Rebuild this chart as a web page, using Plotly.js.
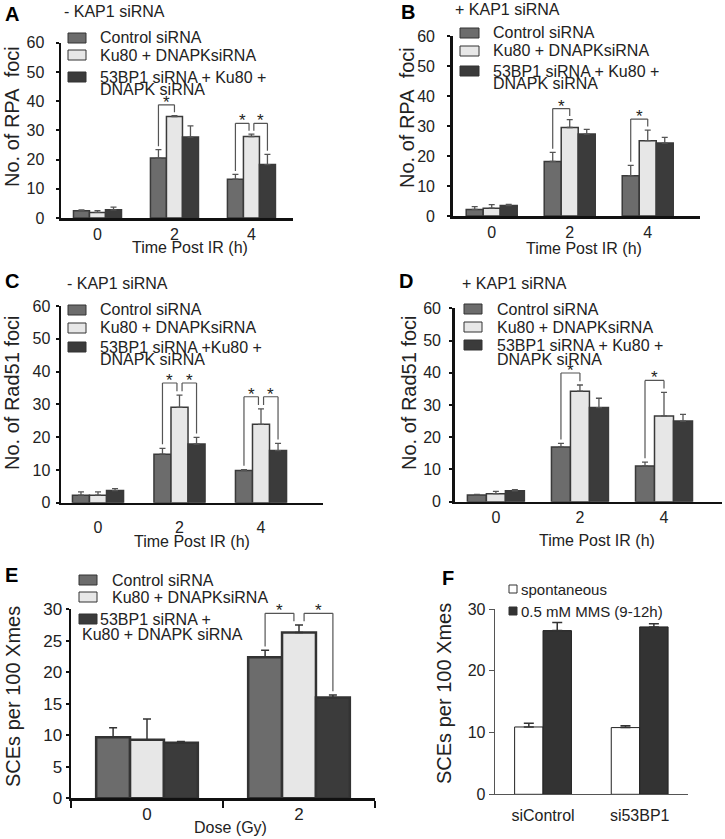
<!DOCTYPE html>
<html>
<head>
<meta charset="utf-8">
<script src="https://cdn.plot.ly/plotly-3.0.1.min.js"></script>
<style>html,body{margin:0;padding:0;background:#fff;}#chart{width:725px;height:839px;}</style>
</head>
<body>
<div id="chart"></div>
<script>
// ---------------- data ----------------
const timeLabels = ['0', '2', '4'];
const doseLabels = ['0', '2'];
const cellLabels = ['siControl', 'si53BP1'];

const namesAB = ['Control siRNA', 'Ku80 + DNAPKsiRNA', '53BP1 siRNA + Ku80 +<br>DNAPK siRNA'];
const namesC  = ['Control siRNA', 'Ku80 + DNAPKsiRNA', '53BP1 siRNA +Ku80 +<br>DNAPK siRNA'];
const namesE  = ['Control siRNA', 'Ku80 + DNAPKsiRNA', '53BP1 siRNA +<br>Ku80 + DNAPK siRNA'];
const namesF  = ['spontaneous', '0.5 mM MMS (9-12h)'];

// A: RPA foci, - KAP1 siRNA
const rpaMinusControl    = [2.5, 20.5, 13.3];
const rpaMinusControlErr = [0.3, 2.9, 1.6];
const rpaMinusKu         = [1.9, 34.7, 27.9];
const rpaMinusKuErr      = [0.6, 0.3, 0.8];
const rpaMinus53         = [2.8, 27.7, 18.3];
const rpaMinus53Err      = [0.9, 3.8, 3.5];
const sigA = [[1, 0, 1], [2, 0, 1], [2, 1, 2]];

// B: RPA foci, + KAP1 siRNA
const rpaPlusControl    = [2.2, 18.2, 13.4];
const rpaPlusControlErr = [0.9, 3.0, 3.5];
const rpaPlusKu         = [2.6, 29.5, 25.1];
const rpaPlusKuErr      = [1.2, 2.6, 3.5];
const rpaPlus53         = [3.5, 27.3, 24.3];
const rpaPlus53Err      = [0.4, 1.6, 1.9];
const sigB = [[1, 0, 1], [2, 0, 1]];

// C: Rad51 foci, - KAP1 siRNA
const radMinusControl    = [2.3, 14.8, 9.8];
const radMinusControlErr = [1.0, 1.8, 0.3];
const radMinusKu         = [2.3, 29.1, 23.9];
const radMinusKuErr      = [1.0, 3.7, 4.7];
const radMinus53         = [3.7, 17.9, 15.9];
const radMinus53Err      = [0.6, 2.0, 2.2];
const sigC = [[1, 0, 1], [1, 1, 2], [2, 0, 1], [2, 1, 2]];

// D: Rad51 foci, + KAP1 siRNA
const radPlusControl    = [2.1, 17.0, 11.1];
const radPlusControlErr = [0.2, 1.1, 1.2];
const radPlusKu         = [2.5, 34.3, 26.6];
const radPlusKuErr      = [0.7, 1.9, 7.3];
const radPlus53         = [3.4, 29.2, 25.0];
const radPlus53Err      = [0.3, 2.9, 2.1];
const sigD = [[1, 0, 1], [2, 0, 1]];

// E: SCEs per 100 Xmes vs dose
const sceControl    = [9.7, 22.4];
const sceControlErr = [1.5, 1.1];
const sceKu         = [9.3, 26.3];
const sceKuErr      = [3.3, 1.2];
const sce53         = [8.8, 16.0];
const sce53Err      = [0.2, 0.4];
const sigE = [[1, 0, 1], [1, 1, 2]];

// F: SCEs, spontaneous vs MMS
const sceSpont    = [10.9, 10.8];
const sceSpontErr = [0.6, 0.3];
const sceMms      = [26.5, 27.1];
const sceMmsErr   = [1.3, 0.5];

// ---------------- styles / geometry ----------------
const W = 725, H = 839;
const FONT = 'Liberation Sans, Arial, Helvetica, sans-serif';
const TXT = '#222';
const triColors = ['#6c6c6c', '#e7e7e7', '#3b3b3b'];
const fColors = ['#ffffff', '#333333'];

const common = {
  axisColor: '#111', axisWidth: 2.5, yTickLen: 3, tickSize: 16,
  barLineColor: '#3a3a3a', barLine: 1.5, errColor: '#555', errThick: 1.3, errCap: 3
};

const panels = [
  Object.assign({}, common, {
    k: 1, cats: timeLabels, names: namesAB, colors: triColors, sig: sigA,
    vals: [rpaMinusControl, rpaMinusKu, rpaMinus53], errs: [rpaMinusControlErr, rpaMinusKuErr, rpaMinus53Err],
    x0: 61, x1: 293, zero: 218, top: 42.7, ymax: 60, dtick: 10, xr: [-0.474, 2.54], w: 0.208,
    yStand: 8, xStand: 0,
    letter: ['A', 3, 14], title: ['- KAP1 siRNA', 62, 12],
    ytitle: ['No. of RPA\u00a0\u00a0foci', 12, 117], xtitle: ['Time Post IR (h)', 190, 247],
    leg: { sw: [68, 86], swH: 10, tx: [98, 98, 98], rows: [38, 55, 77], l2x: 98, l2dy: 12, size: 16 }
  }),
  Object.assign({}, common, {
    k: 2, cats: timeLabels, names: namesAB, colors: triColors, sig: sigB,
    vals: [rpaPlusControl, rpaPlusKu, rpaPlus53], errs: [rpaPlusControlErr, rpaPlusKuErr, rpaPlus53Err],
    x0: 452.7, x1: 700, zero: 216, top: 36, ymax: 60, dtick: 10, xr: [-0.5, 2.67], w: 0.218,
    yStand: 9, xStand: 2.5,
    letter: ['B', 399, 11.5], title: ['+ KAP1 siRNA', 452.7, 10],
    ytitle: ['No. of RPA\u00a0\u00a0foci', 407, 118], xtitle: ['Time Post IR (h)', 583.5, 248],
    leg: { sw: [460, 479], swH: 10, tx: [491, 491, 491], rows: [33, 51, 71], l2x: 491, l2dy: 12, size: 16 }
  }),
  Object.assign({}, common, {
    k: 3, cats: timeLabels, names: namesC, colors: triColors, sig: sigC,
    vals: [radMinusControl, radMinusKu, radMinus53], errs: [radMinusControlErr, radMinusKuErr, radMinus53Err],
    x0: 61, x1: 322.7, zero: 502.7, top: 306, ymax: 60, dtick: 10, xr: [-0.454, 2.757], w: 0.209,
    yStand: 2, xStand: 9,
    letter: ['C', 3, 281], title: ['- KAP1 siRNA', 65, 283],
    ytitle: ['No. of Rad51 foci', 12, 393], xtitle: ['Time Post IR (h)', 192.5, 541.7],
    leg: { sw: [68, 86], swH: 10, tx: [98, 98, 98], rows: [310, 328, 347], l2x: 98, l2dy: 12, size: 16 }
  }),
  Object.assign({}, common, {
    k: 4, cats: timeLabels, names: namesAB, colors: triColors, sig: sigD,
    vals: [radPlusControl, radPlusKu, radPlus53], errs: [radPlusControlErr, radPlusKuErr, radPlus53Err],
    x0: 454.7, x1: 722, zero: 501.7, top: 308.3, ymax: 60, dtick: 10, xr: [-0.49, 2.69], w: 0.226,
    yStand: 5, xStand: 5.5,
    letter: ['D', 397, 281], title: ['+ KAP1 siRNA', 460, 283],
    ytitle: ['No. of Rad51 foci', 408.5, 392.5], xtitle: ['Time Post IR (h)', 597, 540],
    leg: { sw: [464, 482], swH: 10, tx: [495, 495, 495], rows: [309, 327, 345], l2x: 495, l2dy: 14, size: 16 }
  }),
  Object.assign({}, common, {
    k: 5, cats: doseLabels, names: namesE, colors: triColors, sig: sigE,
    vals: [sceControl, sceKu, sce53], errs: [sceControlErr, sceKuErr, sce53Err],
    x0: 71, x1: 375, zero: 798.3, top: 609.3, ymax: 30, dtick: 5, xr: [-0.5, 1.5], w: 0.223,
    yStand: 0, xStand: -1, tickSize: 17, yTickLen: 3, boundaries: true,
    barLineColor: '#333', barLine: 2.5, errColor: '#333', errThick: 1.5, errCap: 4,
    letter: ['E', 3, 574.5], title: null,
    ytitle: ['SCEs per 100 Xmes', 13, 697], xtitle: ['Dose (Gy)', 230, 827],
    leg: { sw: [79, 97], swH: 10, tx: [110, 110, 98], rows: [580, 597, 619], l2x: 80, l2dy: 15, size: 16 }
  }),
  Object.assign({}, common, {
    k: 6, cats: cellLabels, names: namesF, colors: fColors, sig: null,
    vals: [sceSpont, sceMms], errs: [sceSpontErr, sceMmsErr],
    x0: 494.7, x1: 688, zero: 794.3, top: 609, ymax: 30, dtick: 10, xr: [-0.5, 1.5], w: 0.294,
    axisColor: '#555', axisWidth: 1, yTickLen: 5, yStand: 0, xStand: 6, tickSize: 16,
    barLineColor: '#222', barLine: 1, errColor: '#333', errThick: 1.5, errCap: 5,
    letter: ['F', 440, 578], title: null,
    ytitle: ['SCEs per 100 Xmes', 444, 693], xtitle: null,
    leg: { sw: [509, 517], swH: 8, tx: [519, 519], rows: [589, 611], l2x: 519, l2dy: 12, size: 15 }
  })
];

// ---------------- build ----------------
const px = x => x / W;
const py = y => 1 - y / H;
const data = [], shapes = [], annotations = [];
const layout = {
  width: W, height: H, margin: { l: 0, r: 0, t: 0, b: 0 },
  paper_bgcolor: '#ffffff', plot_bgcolor: 'rgba(0,0,0,0)',
  showlegend: false, barmode: 'overlay',
  font: { family: FONT, color: TXT }
};

function addText(t, x, y, o) {
  annotations.push(Object.assign({
    xref: 'paper', yref: 'paper', x: px(x), y: py(y), text: t, showarrow: false,
    xanchor: 'left', yanchor: 'middle', font: { family: FONT, size: 16, color: TXT }
  }, o || {}));
}

panels.forEach(p => {
  const sfx = p.k === 1 ? '' : String(p.k);
  const xa = 'x' + sfx, ya = 'y' + sfx;
  const n = p.vals.length;

  p.vals.forEach((v, i) => {
    data.push({
      type: 'bar', x: p.cats, y: v, xaxis: xa, yaxis: ya,
      name: p.names[i].replace('<br>', ' '),
      width: p.w, offset: (i - (n - 1) / 2) * p.w - p.w / 2,
      marker: { color: p.colors[i], line: { color: p.barLineColor, width: p.barLine } },
      error_y: {
        type: 'data', symmetric: false, array: p.errs[i], arrayminus: p.errs[i].map(() => 0),
        color: p.errColor, thickness: p.errThick, width: p.errCap
      }
    });
  });

  layout['xaxis' + sfx] = {
    domain: [px(p.x0), px(p.x1)], anchor: ya, type: 'category', range: p.xr,
    showline: true, linecolor: p.axisColor, linewidth: p.axisWidth,
    ticks: p.boundaries ? 'outside' : '', tickson: p.boundaries ? 'boundaries' : 'labels',
    ticklen: p.boundaries ? 7 : 0, tickwidth: 2, tickcolor: p.axisColor,
    showgrid: false, zeroline: false, fixedrange: true,
    tickfont: { family: FONT, size: p.tickSize, color: TXT }, ticklabelstandoff: p.xStand
  };
  layout['yaxis' + sfx] = {
    domain: [py(p.zero), py(p.top)], anchor: xa, range: [0, p.ymax], dtick: p.dtick, tick0: 0,
    showline: true, linecolor: p.axisColor, linewidth: p.axisWidth,
    ticks: 'outside', ticklen: p.yTickLen, tickwidth: p.axisWidth > 1 ? 2 : 1, tickcolor: p.axisColor,
    showgrid: false, zeroline: false, fixedrange: true,
    tickfont: { family: FONT, size: p.tickSize, color: TXT }, ticklabelstandoff: p.yStand
  };

  // significance brackets with asterisks
  if (p.sig) {
    const tops = p.vals.map((v, i) => v.map((val, g) => val + p.errs[i][g]));
    const rise = 0.062 * p.ymax, pad = 0.02 * p.ymax, d = 0.15 * p.w;
    p.sig.forEach(([g, a, b]) => {
      const inGroup = p.sig.filter(s => s[0] === g);
      const groupMax = Math.max(...inGroup.map(s => Math.max(tops[s[1]][g], tops[s[2]][g])));
      const yTop = groupMax + rise;
      const sharedA = inGroup.some(s => s[2] === a);
      const sharedB = inGroup.some(s => s[1] === b);
      const xA = g + (a - (n - 1) / 2) * p.w + (sharedA ? d : 0);
      const xB = g + (b - (n - 1) / 2) * p.w - (sharedB ? d : 0);
      const base = { type: 'line', xref: xa, yref: ya, line: { color: '#555', width: 1.2 } };
      shapes.push(Object.assign({}, base, { x0: xA, x1: xA, y0: tops[a][g] + pad, y1: yTop }));
      shapes.push(Object.assign({}, base, { x0: xA, x1: xB, y0: yTop, y1: yTop }));
      shapes.push(Object.assign({}, base, { x0: xB, x1: xB, y0: tops[b][g] + pad, y1: yTop }));
      annotations.push({
        xref: xa, yref: ya, x: (xA + xB) / 2, y: yTop, text: '*', showarrow: false,
        xanchor: 'center', yanchor: 'bottom', yshift: -9, font: { family: FONT, size: 17, color: TXT }
      });
    });
  }

  // legend: swatches + text
  const L = p.leg;
  p.names.forEach((nm, i) => {
    const row = L.rows[i];
    shapes.push({
      type: 'rect', xref: 'paper', yref: 'paper',
      x0: px(L.sw[0]), x1: px(L.sw[1]), y0: py(row + L.swH / 2), y1: py(row - L.swH / 2),
      fillcolor: p.colors[i], line: { color: '#333', width: 1 }
    });
    nm.split('<br>').forEach((t, j) => {
      addText(t, j === 0 ? L.tx[i] : L.l2x, row + j * L.l2dy, { font: { family: FONT, size: L.size, color: TXT } });
    });
  });

  // panel letter, subtitle, axis titles
  addText('<b>' + p.letter[0] + '</b>', p.letter[1], p.letter[2], { font: { family: FONT, size: 20, color: '#000' } });
  if (p.title) addText(p.title[0], p.title[1], p.title[2]);
  addText(p.ytitle[0], p.ytitle[1], p.ytitle[2], { xanchor: 'center', textangle: -90, font: { family: FONT, size: 20, color: TXT } });
  if (p.xtitle) addText(p.xtitle[0], p.xtitle[1], p.xtitle[2], { xanchor: 'center' });
});

layout.shapes = shapes;
layout.annotations = annotations;

Plotly.newPlot('chart', data, layout, { displayModeBar: false, staticPlot: true });
</script>
</body>
</html>
